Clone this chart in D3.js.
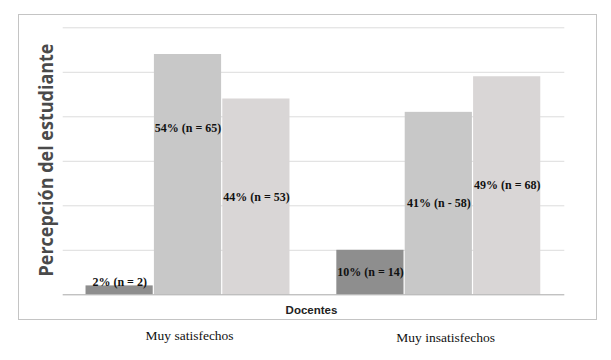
<!DOCTYPE html>
<html>
<head>
<meta charset="utf-8">
<script src="https://cdn.jsdelivr.net/npm/d3@7"></script>
<style>
  html, body { margin: 0; padding: 0; background: #ffffff; }
  svg { display: block; }
</style>
</head>
<body>
<svg id="chart" width="611" height="360"></svg>
<script>
// ---- data ----
const categories = ["Muy satisfechos", "Muy insatisfechos"];
const seriesKeys = ["s1", "s2", "s3"];
const percentValues = [[2, 54, 44], [10, 41, 49]];
const countValues = [[2, 65, 53], [14, 58, 68]];
const labelTexts = [
  ["2% (n = 2)", "54% (n = 65)", "44% (n = 53)"],
  ["10% (n = 14)", "41% (n - 58)", "49% (n = 68)"]
];
// value (in % units) at which each data label is centred
const labelAnchorValues = [[2.8, 37.5, 22], [5, 20.5, 24.5]];
const yTicks = [0, 10, 20, 30, 40, 50, 60];
const yTitle = "Percepción del estudiante";
const xTitle = "Docentes";

// ---- layout ----
const svg = d3.select("#chart");
const plot = { left: 62.7, right: 564.3, top: 27.3, bottom: 294.3 };
const colors = ["#8e8e8e", "#c8c8c8", "#d9d6d6"];

// outer frame
svg.append("rect")
  .attr("x", 18.5).attr("y", 14.5)
  .attr("width", 578).attr("height", 305)
  .attr("fill", "none").attr("stroke", "#c4c4c4").attr("stroke-width", 1);

const x0 = d3.scaleBand()
  .domain(categories)
  .range([plot.left, plot.right])
  .paddingInner(0.182)
  .paddingOuter(0.091);

const x1 = d3.scaleBand()
  .domain(seriesKeys)
  .range([0, x0.bandwidth()])
  .padding(0);

const y = d3.scaleLinear()
  .domain([0, 60])
  .range([plot.bottom, plot.top]);

// gridlines
const gridAxis = d3.axisLeft(y)
  .tickValues(yTicks.filter(t => t > 0))
  .tickSize(-(plot.right - plot.left))
  .tickFormat("");
const g = svg.append("g")
  .attr("transform", `translate(${plot.left},0)`)
  .call(gridAxis);
g.select(".domain").remove();
g.selectAll(".tick line").attr("stroke", "#dcdcdc").attr("stroke-width", 1);

// bars
const groups = svg.append("g").selectAll("g")
  .data(categories)
  .join("g")
  .attr("transform", d => `translate(${x0(d)},0)`);

groups.selectAll("rect")
  .data((d, i) => seriesKeys.map((k, j) => ({ k, j, v: percentValues[i][j] })))
  .join("rect")
  .attr("x", d => x1(d.k))
  .attr("y", d => y(d.v))
  .attr("width", x1.bandwidth() - 1.2)
  .attr("height", d => y(0) - y(d.v))
  .attr("fill", d => colors[d.j]);

// baseline axis
const baseAxis = d3.axisBottom(x0).tickSize(0).tickFormat("");
const bg = svg.append("g")
  .attr("transform", `translate(0,${y(0)})`)
  .call(baseAxis);
bg.select(".domain")
  .attr("d", `M${plot.left},0.5H${plot.right}`)
  .attr("stroke", "#a8a8a8").attr("stroke-width", 1);

// data labels
groups.selectAll("text.lbl")
  .data((d, i) => seriesKeys.map((k, j) => ({ k, j, t: labelTexts[i][j], a: labelAnchorValues[i][j], n: countValues[i][j] })))
  .join("text")
  .attr("class", "lbl")
  .attr("x", d => x1(d.k) + x1.bandwidth() / 2)
  .attr("y", d => y(d.a))
  .attr("dy", "0.35em")
  .attr("text-anchor", "middle")
  .attr("font-family", "'Liberation Serif', 'Times New Roman', serif")
  .attr("font-weight", "bold")
  .attr("font-size", 12)
  .attr("fill", "#111")
  .text(d => d.t);

// y title
svg.append("text")
  .attr("transform", `translate(53,160) rotate(-90)`)
  .attr("text-anchor", "middle")
  .attr("font-family", "'Open Sans', 'DejaVu Sans', sans-serif")
  .attr("font-weight", "bold")
  .attr("font-size", 19.5)
  .attr("fill", "#4a4a4a")
  .attr("textLength", 233)
  .attr("lengthAdjust", "spacingAndGlyphs")
  .text(yTitle);

// x title
svg.append("text")
  .attr("x", (plot.left + plot.right) / 2 - 2)
  .attr("y", 314)
  .attr("text-anchor", "middle")
  .attr("font-family", "'Liberation Sans', Arial, sans-serif")
  .attr("font-weight", "bold")
  .attr("font-size", 11.5)
  .attr("fill", "#222")
  .text(xTitle);

// category labels below frame
svg.append("g").selectAll("text")
  .data(categories)
  .join("text")
  .attr("x", d => x0(d) + 60)
  .attr("y", (d, i) => 340 + i * 1.5)
  .attr("text-anchor", "start")
  .attr("font-family", "'Liberation Serif', 'Times New Roman', serif")
  .attr("font-size", 13.5)
  .attr("fill", "#111")
  .text(d => d);
</script>
</body>
</html>
